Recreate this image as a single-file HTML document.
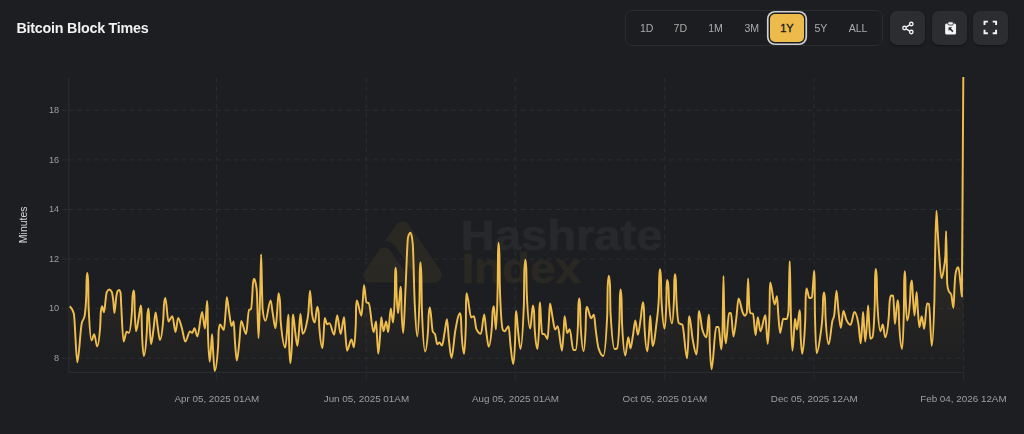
<!DOCTYPE html>
<html lang="en">
<head>
<meta charset="utf-8">
<title>Bitcoin Block Times</title>
<style>
  html, body { margin: 0; padding: 0; }
  body {
    width: 1024px; height: 434px; overflow: hidden; position: relative;
    background: #1d1e21;
    font-family: "Liberation Sans", sans-serif;
    color: #f2f2f3;
  }
  .title {
    position: absolute; left: 16.5px; top: 18px; height: 20px; line-height: 20px;
    font-size: 14.3px; font-weight: 700; color: #f1f1f2; letter-spacing: -0.23px;
    white-space: nowrap; filter: grayscale(1);
  }
  .range {
    position: absolute; left: 625.2px; top: 10px; width: 256px; height: 34px;
    border: 1px solid #2b2c30; border-radius: 7px; background: #1c1d20;
  }
  .range span {
    position: absolute; top: 3px; height: 28px; line-height: 28px; width: 34px; margin-left: -17px;
    text-align: center; font-size: 10.6px; color: #a9aab0; border-radius: 5px;
  }
  .range span:not(.on) { filter: grayscale(1); }
  .range span.on {
    background: #ecbb4b; color: #1b1c1f; font-weight: 400; -webkit-text-stroke: 0.35px #1b1c1f; width: 33.4px; margin-left: -16.7px;
    top: 2.5px; height: 28.8px; line-height: 28.8px; font-size: 11px;
    box-shadow: 0 0 0 1.4px #1d1e21, 0 0 0 3.1px #cfd0d4;
  }
  .ib {
    position: absolute; top: 10.5px; width: 35px; height: 34.7px; border-radius: 7px; box-shadow: 0 1px 2px rgba(0,0,0,0.4);
    background: #2c2d31;
  }
  .ib svg { position: absolute; left: 0; top: -0.5px; width: 35px; height: 35.5px; }
  svg.chart { position: absolute; left: 0; top: 0; }
  svg text { font-family: "Liberation Sans", sans-serif; }
</style>
</head>
<body>
<div class="title">Bitcoin Block Times</div>

<div class="range">
  <span style="left:20.5px">1D</span>
  <span style="left:54.2px">7D</span>
  <span style="left:89.4px">1M</span>
  <span style="left:125.6px">3M</span>
  <span class="on" style="left:160.7px">1Y</span>
  <span style="left:194.7px">5Y</span>
  <span style="left:231.9px">ALL</span>
</div>

<div class="ib" style="left:889.5px">
  <svg viewBox="0 0 35 35.5" fill="none" stroke="#f4f4f5" stroke-width="1.3">
    <circle cx="21.3" cy="14.0" r="1.75"/><circle cx="14.5" cy="18.0" r="1.75"/><circle cx="21.3" cy="22.0" r="1.75"/>
    <path d="M16.1 17.1 L19.7 14.9 M16.1 18.9 L19.7 21.1"/>
  </svg>
</div>
<div class="ib" style="left:931.5px">
  <svg viewBox="0 0 35 35.5">
    <g transform="translate(18.6 18.4) scale(0.94) translate(-17.8 -18.4)">
    <path d="M13.6 13.2 h8.4 a1.6 1.6 0 0 1 1.6 1.6 v8.6 a1.6 1.6 0 0 1 -1.6 1.6 h-8.4 a1.6 1.6 0 0 1 -1.6 -1.6 v-8.6 a1.6 1.6 0 0 1 1.6 -1.6 z" fill="#f4f4f5"/>
    <rect x="14.9" y="11.4" width="5.8" height="3.4" rx="1.2" fill="#f4f4f5" stroke="#2c2d31" stroke-width="0.9"/>
    <path d="M15.6 17.2 h4 l-1.4 1.4 2.6 2.6 -1.2 1.2 -2.6 -2.6 -1.4 1.4 z" fill="#2c2d31"/>
    </g>
  </svg>
</div>
<div class="ib" style="left:973.3px">
  <svg viewBox="0 0 35 35.5" fill="none" stroke="#f4f4f5" stroke-width="1.9">
    <path d="M11.5 15.0 V11.6 H14.9 M19.7 11.6 H23.1 V15.0 M23.1 19.8 V23.2 H19.7 M14.9 23.2 H11.5 V19.8"/>
  </svg>
</div>

<svg class="chart" width="1024" height="434" viewBox="0 0 1024 434">
  <defs>
    <linearGradient id="fill" gradientUnits="userSpaceOnUse" x1="0" y1="76" x2="0" y2="372">
      <stop offset="0" stop-color="#eebd4c" stop-opacity="0.2"/>
      <stop offset="1" stop-color="#eebd4c" stop-opacity="0"/>
    </linearGradient>
    <clipPath id="plot"><rect x="66" y="70" width="900" height="303"/></clipPath>
  </defs>

  <!-- watermark -->
  <defs>
    <clipPath id="tri"><path d="M409.35 225.14L440.25 269.94A8.20 8.20 0 0 1 433.50 282.80L371.80 282.80A8.20 8.20 0 0 1 365.04 269.95L395.84 225.15A8.20 8.20 0 0 1 409.35 225.14Z"/></clipPath>
  </defs>
  <g>
    <path d="M409.35 225.14L440.25 269.94A8.20 8.20 0 0 1 433.50 282.80L371.80 282.80A8.20 8.20 0 0 1 365.04 269.95L395.84 225.15A8.20 8.20 0 0 1 409.35 225.14Z" fill="#2a2823"/>
    <g clip-path="url(#tri)">
      <path d="M384.5 254.4L399.1 275.6H369.9Z" fill="none" stroke="#1d1e21" stroke-width="27" stroke-linejoin="round"/>
      <path d="M384.5 254.4L399.1 275.6H369.9Z" fill="#2a2823" stroke="#2a2823" stroke-width="14" stroke-linejoin="round"/>
    </g>
    <text x="460.6" y="250.1" font-size="42.5" font-weight="700" fill="#27282b" stroke="#27282b" stroke-width="0.7" textLength="202" lengthAdjust="spacingAndGlyphs">Hashrate</text>
    <text x="461.4" y="283.3" font-size="42.5" font-weight="700" fill="#2a2822" stroke="#2a2822" stroke-width="0.7" textLength="119.5" lengthAdjust="spacingAndGlyphs">Index</text>
  </g>
  <!-- grid -->
  <g stroke="#2b2d33" stroke-width="1" stroke-dasharray="4.5 4.2" fill="none">
    <path d="M68.5 110.3H963.8M68.5 159.9H963.8M68.5 209.5H963.8M68.5 259.1H963.8M68.5 308.7H963.8M68.5 358.3H963.8"/>
    <path d="M216.6 78V372M366.3 78V372M515.3 78V372M664.7 78V372M814.1 78V372M963.5 78V372"/>
  </g>
  <!-- axes -->
  <g stroke="#2a2b2f" stroke-width="1" fill="none">
    <path d="M68.8 78V372.3H964" stroke-width="1.25"/>
    <path d="M62 110.3H68.5M62 159.9H68.5M62 209.5H68.5M62 259.1H68.5M62 308.7H68.5M62 358.3H68.5"/>
    <path d="M216.6 372V379.5M366.3 372V379.5M515.3 372V379.5M664.7 372V379.5M814.1 372V379.5M963.5 372V379.5"/>
  </g>
  <!-- y labels -->
  <g font-size="9.2" fill="#9c9da3" text-anchor="end" style="filter:grayscale(1)">
    <text x="59.2" y="113">18</text>
    <text x="59.2" y="162.6">16</text>
    <text x="59.2" y="212.2">14</text>
    <text x="59.2" y="261.8">12</text>
    <text x="59.2" y="311.4">10</text>
    <text x="59.2" y="361">8</text>
  </g>
  <g style="filter:grayscale(1)"><text transform="translate(27.3 224.8) rotate(-90)" font-size="10.5" fill="#d6d6d9" text-anchor="middle">Minutes</text></g>
  <!-- x labels -->
  <g font-size="9.85" fill="#9c9da3" text-anchor="middle" style="filter:grayscale(1)">
    <text x="216.8" y="402.0">Apr 05, 2025 01AM</text>
    <text x="366.4" y="402.0">Jun 05, 2025 01AM</text>
    <text x="515.5" y="402.0">Aug 05, 2025 01AM</text>
    <text x="664.9" y="402.0">Oct 05, 2025 01AM</text>
    <text x="814.3" y="402.0">Dec 05, 2025 12AM</text>
    <text x="963.4" y="402.0">Feb 04, 2026 12AM</text>
  </g>

  <!-- series -->
  <g clip-path="url(#plot)">
    <path d="M69.8,306.2C71.1,307.4,72.5,308.7,73.8,313.6C75.0,317.9,76.1,362.3,77.3,362.3C78.7,362.3,80.2,331.6,81.6,323.9C82.6,318.4,83.7,321.0,84.7,315.3C85.2,312.3,85.8,308.2,86.3,294.1C86.4,290.9,86.5,280.6,86.7,278.4C86.9,274.7,87.1,272.9,87.3,272.9C87.6,272.9,87.9,275.8,88.2,281.7C88.3,284.6,88.4,303.4,88.6,306.6C89.6,329.1,90.6,340.4,91.6,340.4C92.5,340.4,93.3,334.3,94.2,334.3C95.2,334.3,96.2,346.4,97.2,346.4C98.2,346.4,99.2,339.7,100.2,326.3C100.4,323.1,100.6,313.6,100.9,311.5C101.3,308.0,101.7,306.3,102.1,306.3C102.7,306.3,103.4,312.3,104.0,312.3C104.5,312.3,105.1,304.0,105.6,300.0C105.9,297.5,106.3,293.3,106.6,292.5C107.5,290.5,108.3,289.5,109.2,289.5C110.1,289.5,110.9,290.3,111.8,292.0C112.3,292.9,112.7,296.1,113.2,300.0C113.6,303.4,114.0,312.9,114.4,312.9C115.1,312.9,115.7,299.8,116.4,296.0C116.8,293.7,117.2,291.6,117.6,291.0C118.1,290.3,118.7,289.9,119.2,289.9C119.7,289.9,120.1,290.9,120.6,293.0C120.8,293.9,121.0,301.2,121.2,305.0C122.0,320.2,122.8,341.6,123.6,341.6C124.6,341.6,125.6,331.7,126.6,331.7C127.3,331.7,128.1,332.9,128.8,332.9C129.8,332.9,130.9,325.8,131.9,311.7C132.1,308.5,132.4,298.2,132.6,296.0C133.0,292.3,133.4,290.5,133.8,290.5C134.0,290.5,134.2,292.3,134.4,295.8C134.5,297.9,134.6,307.6,134.7,310.9C135.2,324.4,135.6,331.2,136.1,331.2C136.9,331.2,137.8,322.8,138.6,318.4C139.4,314.2,140.1,305.5,140.9,305.5C141.1,305.5,141.3,307.7,141.5,312.1C141.6,314.4,141.8,327.7,141.9,330.7C142.5,347.5,143.2,355.9,143.8,355.9C144.8,355.9,145.8,348.0,146.8,332.1C147.0,329.0,147.2,316.9,147.4,314.6C147.8,310.5,148.1,308.4,148.5,308.4C148.9,308.4,149.2,321.0,149.6,326.3C150.1,333.6,150.6,344.2,151.1,344.2C151.9,344.2,152.8,334.3,153.6,328.3C154.3,323.5,154.9,312.4,155.6,312.4C156.3,312.4,156.9,321.8,157.6,326.1C158.4,331.1,159.1,339.9,159.9,339.9C161.0,339.9,162.2,332.9,163.3,318.9C163.5,315.6,163.8,305.5,164.1,303.4C164.5,299.7,165.0,297.9,165.4,297.9C166.4,297.9,167.4,321.4,168.4,321.4C169.7,321.4,171.1,316.2,172.4,316.2C173.4,316.2,174.5,332.1,175.5,332.1C176.4,332.1,177.2,317.9,178.1,317.9C179.4,317.9,180.6,324.0,181.9,328.3C183.0,332.1,184.2,341.6,185.3,341.6C186.9,341.6,188.4,331.4,190.0,331.4C190.7,331.4,191.5,332.9,192.2,332.9C193.0,332.9,193.7,328.3,194.5,328.3C195.5,328.3,196.4,336.4,197.4,336.4C199.0,336.4,200.5,311.9,202.1,311.9C203.0,311.9,204.0,328.6,204.9,328.6C205.3,328.6,205.7,319.7,206.1,314.8C206.4,310.4,206.8,300.9,207.1,300.9C207.3,300.9,207.4,303.5,207.6,308.8C207.7,311.5,207.8,328.5,207.9,331.4C208.5,351.7,209.1,361.8,209.7,361.8C210.1,361.8,210.6,353.0,211.0,348.0C211.4,343.7,211.7,334.3,212.1,334.3C212.5,334.3,212.8,347.3,213.2,352.6C213.7,360.2,214.2,371.0,214.7,371.0C215.8,371.0,216.9,363.2,218.0,347.8C218.3,344.6,218.5,332.8,218.7,330.5C219.1,326.5,219.5,324.5,219.9,324.5C221.2,324.5,222.6,330.0,223.9,330.0C224.4,330.0,225.0,319.9,225.5,313.5C226.0,308.6,226.4,297.1,226.8,297.1C227.5,297.1,228.3,307.1,229.0,311.5C229.9,316.8,230.7,326.0,231.6,326.0C232.3,326.0,233.0,321.2,233.7,321.2C234.1,321.2,234.5,335.2,234.9,340.9C235.6,349.3,236.2,360.5,236.8,360.5C237.7,360.5,238.6,349.3,239.4,340.8C240.0,335.0,240.6,321.0,241.2,321.0C242.8,321.0,244.5,334.1,246.1,334.1C247.1,334.1,248.0,309.9,249.0,309.6C249.7,309.4,250.4,309.5,251.1,309.3C251.5,309.2,251.9,301.5,252.3,295.0C252.5,291.8,252.7,285.9,252.9,284.0C253.3,280.5,253.6,278.7,254.0,278.7C254.5,278.7,255.1,280.3,255.6,283.0C256.0,285.2,256.5,286.0,256.9,292.0C257.4,299.4,258.0,338.1,258.5,338.1C258.9,338.1,259.3,322.8,259.7,310.0C259.9,302.5,260.2,293.2,260.4,284.0C260.6,274.7,260.9,254.5,261.1,254.5C261.4,254.5,261.6,274.3,261.9,284.0C262.1,292.5,262.4,307.0,262.6,309.0C263.5,316.9,264.5,320.8,265.4,320.8C267.1,320.8,268.9,300.5,270.6,300.5C271.4,300.5,272.1,310.0,272.9,314.4C273.8,319.4,274.6,328.3,275.5,328.3C276.1,328.3,276.6,317.8,277.2,310.8C277.6,305.5,278.1,293.2,278.5,293.2C279.0,293.2,279.4,295.6,279.9,300.3C280.2,302.7,280.4,317.6,280.6,320.4C282.2,338.5,283.7,347.6,285.3,347.6C285.9,347.6,286.4,337.5,287.0,331.2C287.4,326.3,287.9,314.8,288.3,314.8C288.4,314.8,288.6,316.9,288.7,321.1C288.8,323.4,288.9,335.9,289.0,339.0C289.4,355.1,289.9,363.2,290.3,363.2C290.9,363.2,291.5,355.1,292.1,338.9C292.2,335.8,292.4,323.2,292.5,320.8C292.7,316.6,292.9,314.5,293.1,314.5C293.7,314.5,294.4,325.4,295.0,330.2C295.8,336.1,296.6,345.9,297.4,345.9C298.0,345.9,298.5,335.9,299.1,329.8C299.5,324.9,300.0,313.6,300.4,313.6C301.1,313.6,301.9,333.8,302.6,333.8C304.0,333.8,305.5,329.9,306.9,322.2C307.4,319.7,307.8,317.9,308.3,313.5C308.9,308.2,309.4,290.8,310.0,290.8C310.7,290.8,311.3,309.0,312.0,313.5C312.9,319.6,313.8,322.6,314.7,322.6C315.6,322.6,316.4,306.7,317.3,306.7C317.7,306.7,318.1,308.5,318.6,312.1C318.8,314.2,319.1,324.1,319.3,327.4C320.4,341.1,321.4,348.0,322.5,348.0C322.9,348.0,323.3,338.5,323.7,332.9C324.0,328.3,324.4,317.9,324.7,317.9C325.5,317.9,326.3,324.3,327.1,324.3C327.9,324.3,328.6,323.1,329.4,323.1C331.0,323.1,332.6,334.7,334.2,334.7C335.2,334.7,336.2,315.3,337.2,315.3C338.3,315.3,339.5,334.1,340.6,334.1C341.8,334.1,342.9,317.1,344.1,317.1C344.5,317.1,344.9,328.9,345.4,333.9C345.9,340.5,346.5,350.7,347.0,350.7C348.5,350.7,350.0,339.5,351.5,339.5C352.3,339.5,353.1,347.3,353.9,347.3C354.5,347.3,355.1,339.5,355.8,323.9C355.9,320.8,356.0,308.9,356.1,306.6C356.4,302.5,356.6,300.5,356.8,300.5C358.3,300.5,359.9,315.7,361.4,315.7C361.9,315.7,362.4,306.1,362.8,300.4C363.2,295.7,363.6,285.1,364.0,285.1C364.8,285.1,365.6,301.6,366.4,302.3C367.2,303.0,368.0,302.6,368.8,303.3C370.4,304.6,371.9,332.1,373.5,332.1C374.4,332.1,375.2,321.4,376.1,321.4C376.4,321.4,376.7,332.7,377.1,337.5C377.5,343.7,377.9,353.7,378.3,353.7C378.9,353.7,379.5,342.9,380.1,335.4C380.5,330.0,380.9,317.1,381.3,317.1C382.0,317.1,382.8,331.2,383.5,331.2C384.4,331.2,385.2,321.4,386.1,321.4C386.8,321.4,387.5,332.1,388.2,332.1C389.1,332.1,389.9,308.4,390.8,308.4C391.5,308.4,392.3,322.6,393.0,322.6C393.6,322.6,394.2,313.5,394.8,295.2C394.9,292.4,395.0,277.4,395.1,274.9C395.2,270.2,395.4,267.8,395.6,267.8C395.8,267.8,396.0,269.8,396.2,273.7C396.3,275.9,396.4,287.3,396.5,290.4C397.0,305.6,397.5,313.1,398.0,313.1C398.5,313.1,398.9,304.6,399.4,299.9C399.8,295.8,400.2,286.8,400.6,286.8C400.8,286.8,401.0,288.8,401.2,292.8C401.3,295.1,401.4,306.7,401.5,309.8C402.1,325.2,402.6,332.9,403.2,332.9C404.0,332.9,404.8,302.9,405.6,287.0C406.4,271.1,407.2,240.6,408.0,237.5C408.8,234.3,409.7,232.7,410.5,232.7C411.2,232.7,412.0,236.1,412.7,243.0C413.4,249.2,414.0,288.0,414.7,303.0C415.6,322.5,416.4,336.4,417.3,336.4C418.0,336.4,418.7,324.0,419.5,299.2C419.6,295.7,419.7,275.0,419.8,271.8C420.0,265.3,420.2,262.1,420.4,262.1C420.7,262.1,421.0,266.0,421.3,273.7C421.5,277.6,421.7,302.5,421.8,306.8C422.9,336.5,424.0,351.4,425.1,351.4C426.1,351.4,427.1,344.1,428.1,329.4C428.3,326.2,428.5,315.4,428.8,313.2C429.1,309.4,429.5,307.5,429.9,307.5C430.9,307.5,431.8,329.5,432.8,331.7C433.6,333.4,434.3,332.6,435.1,334.3C435.8,335.9,436.5,344.2,437.2,344.2C437.9,344.2,438.7,342.5,439.4,342.5C440.3,342.5,441.1,345.6,442.0,345.6C442.9,345.6,443.7,337.1,444.6,332.4C445.4,328.3,446.2,319.3,447.0,319.3C447.6,319.3,448.2,333.0,448.8,338.6C449.7,346.9,450.6,358.0,451.5,358.0C452.8,358.0,454.0,337.9,455.3,330.8C456.9,322.0,458.4,313.1,460.0,313.1C460.3,313.1,460.7,314.9,461.0,318.4C461.2,320.5,461.4,330.1,461.6,333.4C462.4,346.9,463.3,353.7,464.1,353.7C464.7,353.7,465.3,343.6,465.9,323.4C465.9,320.6,466.0,303.7,466.1,301.1C466.3,295.8,466.4,293.2,466.6,293.2C468.1,293.2,469.7,317.4,471.2,317.4C472.1,317.4,473.1,316.2,474.0,316.2C474.8,316.2,475.6,327.4,476.4,329.1C477.9,332.2,479.4,333.8,480.9,333.8C482.0,333.8,483.1,314.5,484.2,314.5C484.9,314.5,485.5,325.8,486.2,330.6C487.0,336.8,487.9,346.8,488.7,346.8C489.8,346.8,490.8,340.0,491.9,326.5C492.1,323.2,492.4,313.6,492.6,311.5C493.0,308.0,493.5,306.2,493.9,306.2C494.6,306.2,495.2,329.5,495.9,329.5C496.5,329.5,497.1,315.0,497.7,286.1C497.8,282.0,497.9,257.7,498.0,254.0C498.2,246.5,498.3,242.7,498.5,242.7C498.8,242.7,499.1,246.5,499.4,254.0C499.5,257.8,499.7,282.2,499.8,286.4C500.8,315.4,501.9,328.6,502.9,330.0C503.5,330.8,504.0,331.2,504.6,331.2C505.9,331.2,507.3,326.2,508.6,326.2C509.2,326.2,509.9,339.6,510.5,345.1C511.4,353.1,512.3,364.1,513.2,364.1C513.9,364.1,514.6,355.2,515.2,337.6C515.3,334.6,515.5,320.3,515.6,317.9C515.8,313.3,516.0,311.0,516.2,311.0C516.8,311.0,517.4,324.5,518.0,330.0C518.8,338.0,519.7,349.0,520.5,349.0C521.6,349.0,522.7,334.1,523.9,304.4C524.0,300.1,524.2,275.2,524.3,271.3C524.7,263.6,525.0,259.7,525.3,259.7C525.6,259.7,526.0,262.7,526.3,268.7C526.4,271.6,526.6,290.9,526.8,294.1C527.9,317.1,529.1,328.6,530.2,328.6C531.1,328.6,532.0,305.5,532.9,305.5C533.3,305.5,533.6,307.4,534.0,311.2C534.2,313.3,534.4,324.0,534.6,327.2C535.5,341.8,536.5,349.0,537.4,349.0C538.0,349.0,538.5,341.2,539.1,325.7C539.2,322.6,539.3,310.7,539.4,308.5C539.6,304.4,539.8,302.4,540.0,302.4C540.3,302.4,540.6,313.3,540.9,318.1C541.3,324.0,541.7,333.7,542.1,333.8C543.0,334.1,543.8,334.0,544.7,334.3C545.6,334.7,546.6,339.0,547.5,339.0C548.0,339.0,548.5,328.4,548.9,321.2C549.3,315.9,549.6,303.4,550.0,303.4C550.8,303.4,551.6,312.3,552.4,316.4C553.3,321.0,554.2,329.5,555.1,329.5C556.0,329.5,556.8,326.2,557.7,326.2C559.1,326.2,560.6,350.7,562.0,350.7C562.5,350.7,563.0,340.3,563.5,333.4C563.9,328.3,564.2,316.2,564.6,316.2C565.5,316.2,566.3,332.9,567.2,332.9C568.0,332.9,568.9,329.2,569.7,329.2C570.9,329.2,572.1,350.1,573.3,350.1C574.1,350.1,574.8,350.1,575.6,350.0C576.4,349.9,577.2,341.4,578.0,324.2C578.1,321.2,578.3,307.5,578.4,305.1C578.7,300.6,578.9,298.4,579.2,298.4C579.5,298.4,579.8,300.7,580.1,305.3C580.3,307.7,580.4,321.8,580.6,324.8C581.6,342.3,582.5,351.1,583.5,351.1C584.2,351.1,584.9,343.7,585.6,328.9C585.7,325.7,585.9,314.7,586.0,312.5C586.3,308.6,586.5,306.7,586.8,306.7C588.2,306.7,589.7,318.2,591.1,318.2C592.0,318.2,593.0,314.8,593.9,314.8C594.6,314.8,595.2,326.5,595.9,331.4C596.8,337.9,597.6,345.3,598.5,348.1C600.1,353.3,601.8,355.9,603.4,355.9C604.7,355.9,605.9,342.5,607.2,315.8C607.4,311.9,607.5,289.5,607.7,286.0C608.1,279.1,608.4,275.6,608.8,275.6C609.2,275.6,609.6,278.8,610.0,285.1C610.2,288.3,610.3,308.8,610.5,312.3C611.9,336.8,613.2,349.0,614.6,349.0C615.4,349.0,616.2,348.8,617.0,348.3C617.8,347.8,618.7,338.5,619.5,318.9C619.6,316.0,619.8,299.6,619.9,297.1C620.1,292.0,620.4,289.4,620.6,289.4C620.9,289.4,621.2,292.3,621.5,298.0C621.7,300.8,621.9,319.3,622.0,322.4C623.1,344.4,624.2,355.4,625.3,355.4C626.3,355.4,627.3,337.3,628.3,337.3C629.0,337.3,629.8,348.5,630.5,348.5C631.4,348.5,632.2,339.5,633.1,334.5C633.8,330.1,634.6,320.5,635.3,320.5C636.2,320.5,637.0,334.7,637.9,334.7C638.8,334.7,639.8,324.7,640.7,318.4C641.4,313.5,642.2,302.2,642.9,302.2C643.2,302.2,643.6,304.3,643.9,308.6C644.1,310.9,644.3,323.7,644.5,326.8C645.4,343.2,646.4,351.4,647.4,351.4C647.9,351.4,648.5,340.8,649.0,333.5C649.4,328.3,649.8,315.7,650.2,315.7C650.6,315.7,650.9,326.2,651.3,330.8C651.7,336.4,652.2,345.9,652.6,345.9C653.9,345.9,655.1,335.3,656.4,323.9C657.2,316.5,658.0,314.8,658.9,296.5C659.0,293.7,659.1,278.8,659.3,276.3C659.5,271.6,659.8,269.2,660.0,269.2C660.3,269.2,660.6,271.8,660.9,276.9C661.1,279.5,661.2,296.1,661.4,298.9C662.5,318.7,663.5,328.6,664.6,328.6C665.2,328.6,665.7,320.5,666.3,304.2C666.4,301.2,666.5,288.6,666.6,286.2C666.8,282.0,667.0,279.9,667.2,279.9C667.6,279.9,668.0,281.8,668.3,285.6C668.6,287.7,668.8,298.4,669.0,301.6C670.0,316.1,671.0,323.4,672.0,323.4C672.7,323.4,673.3,315.2,674.0,298.8C674.1,295.7,674.2,282.9,674.3,280.6C674.6,276.3,674.8,274.2,675.0,274.2C675.3,274.2,675.6,276.3,675.9,280.6C676.0,282.9,676.2,295.6,676.4,298.6C677.2,314.9,678.1,322.3,678.9,323.1C680.1,324.2,681.2,323.7,682.4,324.8C683.9,326.3,685.5,358.3,687.0,358.3C687.5,358.3,687.9,351.3,688.4,337.2C688.5,334.0,688.6,323.8,688.7,321.7C688.9,318.0,689.1,316.2,689.3,316.2C690.4,316.2,691.6,333.3,692.7,339.5C694.0,346.4,695.2,354.5,696.5,354.5C697.0,354.5,697.6,347.2,698.1,332.8C698.2,329.5,698.4,318.8,698.5,316.7C698.7,312.9,698.9,311.0,699.1,311.0C700.1,311.0,701.2,325.2,702.2,329.1C703.7,334.6,705.1,337.3,706.6,337.3C707.3,337.3,708.1,314.8,708.8,314.8C709.0,314.8,709.2,317.2,709.4,321.9C709.5,324.3,709.6,339.2,709.7,342.0C710.3,360.1,711.0,369.2,711.6,369.2C713.1,369.2,714.7,327.1,716.2,327.0C717.0,326.9,717.8,326.9,718.6,326.9C719.5,326.9,720.4,349.4,721.3,349.4C721.7,349.4,722.0,344.6,722.4,335.0C722.6,330.2,722.8,312.9,723.0,303.0C723.1,293.2,723.3,275.9,723.5,275.9C723.7,275.9,723.9,294.2,724.0,303.0C724.3,313.4,724.5,329.3,724.7,333.0C725.1,339.9,725.5,343.3,725.9,343.3C726.9,343.3,728.0,313.4,729.0,313.2C729.7,313.1,730.3,313.0,731.0,313.0C731.8,313.0,732.6,336.4,733.4,336.4C734.4,336.4,735.4,325.4,736.4,317.4C737.1,311.9,737.8,298.4,738.5,298.4C740.0,298.4,741.4,310.1,742.9,313.0C743.5,314.3,744.2,315.7,744.8,315.7C745.5,315.7,746.1,314.8,746.8,313.0C747.0,312.5,747.2,300.4,747.4,295.0C747.6,288.7,747.9,278.5,748.1,278.5C748.3,278.5,748.6,289.5,748.8,295.0C749.0,299.7,749.2,307.7,749.4,309.0C749.8,311.8,750.3,313.0,750.7,313.2C751.5,313.5,752.2,313.3,753.0,313.6C753.9,313.9,754.7,335.2,755.6,335.2C756.3,335.2,757.1,317.1,757.8,317.1C758.7,317.1,759.5,331.2,760.4,331.2C762.1,331.2,763.7,315.3,765.4,315.3C765.8,315.3,766.1,325.1,766.5,329.5C766.9,334.7,767.3,343.8,767.7,343.8C768.3,343.8,768.9,333.6,769.5,313.1C769.6,310.2,769.7,293.1,769.8,290.5C770.0,285.2,770.1,282.5,770.3,282.5C771.7,282.5,773.2,304.4,774.6,304.4C775.4,304.4,776.2,296.3,777.0,296.3C777.4,296.3,777.9,309.2,778.3,314.6C778.9,322.1,779.5,332.9,780.1,332.9C781.1,332.9,782.2,318.8,783.2,318.8C784.4,318.8,785.5,319.1,786.7,319.1C787.3,319.1,787.9,316.4,788.5,311.0C788.7,309.2,788.9,293.3,789.1,285.0C789.3,276.7,789.5,261.2,789.7,261.2C789.9,261.2,790.1,275.9,790.3,285.0C790.5,294.1,790.7,307.3,790.9,316.0C791.4,337.8,791.9,350.7,792.4,350.7C792.9,350.7,793.4,340.8,793.8,334.8C794.2,329.9,794.6,318.8,795.0,318.8C795.7,318.8,796.3,329.5,797.0,329.5C797.9,329.5,798.7,310.1,799.6,310.1C799.8,310.1,800.0,312.0,800.2,315.8C800.3,318.0,800.4,328.7,800.5,331.9C801.1,346.4,801.6,353.7,802.1,353.7C803.1,353.7,804.2,342.8,805.2,321.1C805.4,318.0,805.6,299.8,805.7,297.0C806.0,291.3,806.3,288.5,806.6,288.5C807.5,288.5,808.5,298.1,809.4,298.1C810.2,298.1,811.1,297.9,811.9,297.4C812.3,297.2,812.7,288.8,813.1,284.0C813.5,279.8,813.8,270.7,814.2,270.7C814.4,270.7,814.5,274.3,814.7,281.4C814.8,285.0,814.8,308.0,814.9,311.9C815.5,339.4,816.0,353.2,816.6,353.2C817.9,353.2,819.1,345.1,820.4,335.2C821.1,329.4,821.9,328.1,822.6,313.9C822.8,310.6,823.0,300.2,823.1,298.1C823.4,294.4,823.7,292.5,824.0,292.5C824.3,292.5,824.7,294.7,825.0,299.2C825.2,301.6,825.4,315.4,825.6,318.4C826.6,335.6,827.7,344.2,828.7,344.2C830.0,344.2,831.2,325.6,832.5,320.5C833.1,318.2,833.6,318.8,834.2,315.3C835.0,310.6,835.7,290.8,836.5,290.8C837.1,290.8,837.7,303.9,838.3,309.3C839.1,317.0,840.0,327.8,840.8,327.8C841.7,327.8,842.5,311.0,843.4,311.0C844.4,311.0,845.3,317.4,846.3,319.6C847.7,322.8,849.2,324.8,850.6,324.8C851.9,324.8,853.1,311.9,854.4,311.9C855.7,311.9,857.1,315.9,858.4,323.9C859.2,328.5,859.9,343.3,860.7,343.3C861.1,343.3,861.6,333.5,862.0,327.6C862.4,322.8,862.7,311.9,863.1,311.9C863.4,311.9,863.8,322.2,864.1,326.8C864.5,332.2,864.9,341.6,865.3,341.6C865.8,341.6,866.4,330.9,866.9,323.6C867.3,318.2,867.7,305.5,868.1,305.5C868.4,305.5,868.7,317.2,869.1,322.1C869.5,328.6,869.9,338.8,870.3,338.8C871.0,338.8,871.7,338.3,872.4,337.2C873.2,336.0,874.0,325.8,874.8,303.1C874.9,299.9,875.0,280.8,875.1,277.9C875.3,272.0,875.6,269.0,875.8,269.0C876.1,269.0,876.4,271.7,876.7,277.1C876.9,279.8,877.0,297.1,877.2,300.1C878.3,320.8,879.3,331.2,880.4,331.2C881.2,331.2,882.0,324.5,882.8,324.5C883.6,324.5,884.4,337.3,885.2,337.3C886.4,337.3,887.6,330.3,888.8,316.4C889.1,313.1,889.4,303.0,889.7,300.8C890.1,297.2,890.6,295.4,891.1,295.4C891.8,295.4,892.5,295.5,893.2,295.7C893.8,295.9,894.3,324.0,894.9,324.0C895.8,324.0,896.7,300.1,897.6,300.1C897.9,300.1,898.3,302.2,898.6,306.5C898.8,308.8,899.0,321.5,899.2,324.5C900.1,340.8,901.1,349.0,902.1,349.0C902.7,349.0,903.3,336.0,903.9,310.1C904.0,306.4,904.1,284.7,904.2,281.3C904.4,274.6,904.5,271.2,904.7,271.2C904.9,271.2,905.1,273.3,905.3,277.6C905.4,280.0,905.5,292.8,905.6,295.9C906.1,312.3,906.7,320.5,907.2,320.5C908.1,320.5,909.1,313.8,910.0,300.5C910.3,297.2,910.5,287.8,910.7,285.7C911.1,282.2,911.5,280.5,911.9,280.5C912.3,280.5,912.6,292.8,913.0,298.0C913.5,305.0,914.0,315.5,914.5,315.5C915.2,315.5,915.9,292.0,916.6,292.0C917.0,292.0,917.4,304.4,917.8,309.6C918.3,316.7,918.9,327.2,919.4,327.2C920.2,327.2,920.9,316.2,921.7,316.2C922.5,316.2,923.4,328.8,924.2,328.8C925.1,328.8,926.1,303.4,927.0,303.4C927.7,303.4,928.3,303.6,929.0,303.9C929.9,304.3,930.8,345.9,931.7,345.9C932.6,345.9,933.5,330.6,934.4,300.0C934.7,290.9,934.9,263.5,935.2,250.0C935.6,229.8,936.0,210.7,936.4,210.7C936.8,210.7,937.2,223.6,937.6,230.0C938.1,237.4,938.5,245.6,939.0,252.0C939.8,263.5,940.7,278.1,941.5,278.1C942.3,278.1,943.1,273.6,943.9,268.0C944.4,264.5,944.9,263.7,945.4,255.0C945.6,251.0,945.9,231.1,946.1,231.1C946.3,231.1,946.6,253.8,946.8,265.0C946.9,271.4,947.1,282.8,947.2,284.0C947.7,288.7,948.2,289.6,948.7,291.0C949.5,293.3,950.4,292.2,951.2,294.5C952.0,296.6,952.7,307.9,953.5,307.9C953.8,307.9,954.1,295.7,954.4,290.0C954.6,286.2,954.8,281.6,955.0,279.0C955.5,273.0,955.9,271.4,956.4,270.0C957.0,268.1,957.7,267.2,958.3,267.2C959.1,267.2,959.8,277.3,960.6,284.0C961.0,287.8,961.5,296.5,961.9,296.5C962.4,296.5,962.8,186.8,963.3,77.0L963.3,372L69.8,372Z" fill="url(#fill)" stroke="none"/>
    <path d="M69.8,306.2C71.1,307.4,72.5,308.7,73.8,313.6C75.0,317.9,76.1,362.3,77.3,362.3C78.7,362.3,80.2,331.6,81.6,323.9C82.6,318.4,83.7,321.0,84.7,315.3C85.2,312.3,85.8,308.2,86.3,294.1C86.4,290.9,86.5,280.6,86.7,278.4C86.9,274.7,87.1,272.9,87.3,272.9C87.6,272.9,87.9,275.8,88.2,281.7C88.3,284.6,88.4,303.4,88.6,306.6C89.6,329.1,90.6,340.4,91.6,340.4C92.5,340.4,93.3,334.3,94.2,334.3C95.2,334.3,96.2,346.4,97.2,346.4C98.2,346.4,99.2,339.7,100.2,326.3C100.4,323.1,100.6,313.6,100.9,311.5C101.3,308.0,101.7,306.3,102.1,306.3C102.7,306.3,103.4,312.3,104.0,312.3C104.5,312.3,105.1,304.0,105.6,300.0C105.9,297.5,106.3,293.3,106.6,292.5C107.5,290.5,108.3,289.5,109.2,289.5C110.1,289.5,110.9,290.3,111.8,292.0C112.3,292.9,112.7,296.1,113.2,300.0C113.6,303.4,114.0,312.9,114.4,312.9C115.1,312.9,115.7,299.8,116.4,296.0C116.8,293.7,117.2,291.6,117.6,291.0C118.1,290.3,118.7,289.9,119.2,289.9C119.7,289.9,120.1,290.9,120.6,293.0C120.8,293.9,121.0,301.2,121.2,305.0C122.0,320.2,122.8,341.6,123.6,341.6C124.6,341.6,125.6,331.7,126.6,331.7C127.3,331.7,128.1,332.9,128.8,332.9C129.8,332.9,130.9,325.8,131.9,311.7C132.1,308.5,132.4,298.2,132.6,296.0C133.0,292.3,133.4,290.5,133.8,290.5C134.0,290.5,134.2,292.3,134.4,295.8C134.5,297.9,134.6,307.6,134.7,310.9C135.2,324.4,135.6,331.2,136.1,331.2C136.9,331.2,137.8,322.8,138.6,318.4C139.4,314.2,140.1,305.5,140.9,305.5C141.1,305.5,141.3,307.7,141.5,312.1C141.6,314.4,141.8,327.7,141.9,330.7C142.5,347.5,143.2,355.9,143.8,355.9C144.8,355.9,145.8,348.0,146.8,332.1C147.0,329.0,147.2,316.9,147.4,314.6C147.8,310.5,148.1,308.4,148.5,308.4C148.9,308.4,149.2,321.0,149.6,326.3C150.1,333.6,150.6,344.2,151.1,344.2C151.9,344.2,152.8,334.3,153.6,328.3C154.3,323.5,154.9,312.4,155.6,312.4C156.3,312.4,156.9,321.8,157.6,326.1C158.4,331.1,159.1,339.9,159.9,339.9C161.0,339.9,162.2,332.9,163.3,318.9C163.5,315.6,163.8,305.5,164.1,303.4C164.5,299.7,165.0,297.9,165.4,297.9C166.4,297.9,167.4,321.4,168.4,321.4C169.7,321.4,171.1,316.2,172.4,316.2C173.4,316.2,174.5,332.1,175.5,332.1C176.4,332.1,177.2,317.9,178.1,317.9C179.4,317.9,180.6,324.0,181.9,328.3C183.0,332.1,184.2,341.6,185.3,341.6C186.9,341.6,188.4,331.4,190.0,331.4C190.7,331.4,191.5,332.9,192.2,332.9C193.0,332.9,193.7,328.3,194.5,328.3C195.5,328.3,196.4,336.4,197.4,336.4C199.0,336.4,200.5,311.9,202.1,311.9C203.0,311.9,204.0,328.6,204.9,328.6C205.3,328.6,205.7,319.7,206.1,314.8C206.4,310.4,206.8,300.9,207.1,300.9C207.3,300.9,207.4,303.5,207.6,308.8C207.7,311.5,207.8,328.5,207.9,331.4C208.5,351.7,209.1,361.8,209.7,361.8C210.1,361.8,210.6,353.0,211.0,348.0C211.4,343.7,211.7,334.3,212.1,334.3C212.5,334.3,212.8,347.3,213.2,352.6C213.7,360.2,214.2,371.0,214.7,371.0C215.8,371.0,216.9,363.2,218.0,347.8C218.3,344.6,218.5,332.8,218.7,330.5C219.1,326.5,219.5,324.5,219.9,324.5C221.2,324.5,222.6,330.0,223.9,330.0C224.4,330.0,225.0,319.9,225.5,313.5C226.0,308.6,226.4,297.1,226.8,297.1C227.5,297.1,228.3,307.1,229.0,311.5C229.9,316.8,230.7,326.0,231.6,326.0C232.3,326.0,233.0,321.2,233.7,321.2C234.1,321.2,234.5,335.2,234.9,340.9C235.6,349.3,236.2,360.5,236.8,360.5C237.7,360.5,238.6,349.3,239.4,340.8C240.0,335.0,240.6,321.0,241.2,321.0C242.8,321.0,244.5,334.1,246.1,334.1C247.1,334.1,248.0,309.9,249.0,309.6C249.7,309.4,250.4,309.5,251.1,309.3C251.5,309.2,251.9,301.5,252.3,295.0C252.5,291.8,252.7,285.9,252.9,284.0C253.3,280.5,253.6,278.7,254.0,278.7C254.5,278.7,255.1,280.3,255.6,283.0C256.0,285.2,256.5,286.0,256.9,292.0C257.4,299.4,258.0,338.1,258.5,338.1C258.9,338.1,259.3,322.8,259.7,310.0C259.9,302.5,260.2,293.2,260.4,284.0C260.6,274.7,260.9,254.5,261.1,254.5C261.4,254.5,261.6,274.3,261.9,284.0C262.1,292.5,262.4,307.0,262.6,309.0C263.5,316.9,264.5,320.8,265.4,320.8C267.1,320.8,268.9,300.5,270.6,300.5C271.4,300.5,272.1,310.0,272.9,314.4C273.8,319.4,274.6,328.3,275.5,328.3C276.1,328.3,276.6,317.8,277.2,310.8C277.6,305.5,278.1,293.2,278.5,293.2C279.0,293.2,279.4,295.6,279.9,300.3C280.2,302.7,280.4,317.6,280.6,320.4C282.2,338.5,283.7,347.6,285.3,347.6C285.9,347.6,286.4,337.5,287.0,331.2C287.4,326.3,287.9,314.8,288.3,314.8C288.4,314.8,288.6,316.9,288.7,321.1C288.8,323.4,288.9,335.9,289.0,339.0C289.4,355.1,289.9,363.2,290.3,363.2C290.9,363.2,291.5,355.1,292.1,338.9C292.2,335.8,292.4,323.2,292.5,320.8C292.7,316.6,292.9,314.5,293.1,314.5C293.7,314.5,294.4,325.4,295.0,330.2C295.8,336.1,296.6,345.9,297.4,345.9C298.0,345.9,298.5,335.9,299.1,329.8C299.5,324.9,300.0,313.6,300.4,313.6C301.1,313.6,301.9,333.8,302.6,333.8C304.0,333.8,305.5,329.9,306.9,322.2C307.4,319.7,307.8,317.9,308.3,313.5C308.9,308.2,309.4,290.8,310.0,290.8C310.7,290.8,311.3,309.0,312.0,313.5C312.9,319.6,313.8,322.6,314.7,322.6C315.6,322.6,316.4,306.7,317.3,306.7C317.7,306.7,318.1,308.5,318.6,312.1C318.8,314.2,319.1,324.1,319.3,327.4C320.4,341.1,321.4,348.0,322.5,348.0C322.9,348.0,323.3,338.5,323.7,332.9C324.0,328.3,324.4,317.9,324.7,317.9C325.5,317.9,326.3,324.3,327.1,324.3C327.9,324.3,328.6,323.1,329.4,323.1C331.0,323.1,332.6,334.7,334.2,334.7C335.2,334.7,336.2,315.3,337.2,315.3C338.3,315.3,339.5,334.1,340.6,334.1C341.8,334.1,342.9,317.1,344.1,317.1C344.5,317.1,344.9,328.9,345.4,333.9C345.9,340.5,346.5,350.7,347.0,350.7C348.5,350.7,350.0,339.5,351.5,339.5C352.3,339.5,353.1,347.3,353.9,347.3C354.5,347.3,355.1,339.5,355.8,323.9C355.9,320.8,356.0,308.9,356.1,306.6C356.4,302.5,356.6,300.5,356.8,300.5C358.3,300.5,359.9,315.7,361.4,315.7C361.9,315.7,362.4,306.1,362.8,300.4C363.2,295.7,363.6,285.1,364.0,285.1C364.8,285.1,365.6,301.6,366.4,302.3C367.2,303.0,368.0,302.6,368.8,303.3C370.4,304.6,371.9,332.1,373.5,332.1C374.4,332.1,375.2,321.4,376.1,321.4C376.4,321.4,376.7,332.7,377.1,337.5C377.5,343.7,377.9,353.7,378.3,353.7C378.9,353.7,379.5,342.9,380.1,335.4C380.5,330.0,380.9,317.1,381.3,317.1C382.0,317.1,382.8,331.2,383.5,331.2C384.4,331.2,385.2,321.4,386.1,321.4C386.8,321.4,387.5,332.1,388.2,332.1C389.1,332.1,389.9,308.4,390.8,308.4C391.5,308.4,392.3,322.6,393.0,322.6C393.6,322.6,394.2,313.5,394.8,295.2C394.9,292.4,395.0,277.4,395.1,274.9C395.2,270.2,395.4,267.8,395.6,267.8C395.8,267.8,396.0,269.8,396.2,273.7C396.3,275.9,396.4,287.3,396.5,290.4C397.0,305.6,397.5,313.1,398.0,313.1C398.5,313.1,398.9,304.6,399.4,299.9C399.8,295.8,400.2,286.8,400.6,286.8C400.8,286.8,401.0,288.8,401.2,292.8C401.3,295.1,401.4,306.7,401.5,309.8C402.1,325.2,402.6,332.9,403.2,332.9C404.0,332.9,404.8,302.9,405.6,287.0C406.4,271.1,407.2,240.6,408.0,237.5C408.8,234.3,409.7,232.7,410.5,232.7C411.2,232.7,412.0,236.1,412.7,243.0C413.4,249.2,414.0,288.0,414.7,303.0C415.6,322.5,416.4,336.4,417.3,336.4C418.0,336.4,418.7,324.0,419.5,299.2C419.6,295.7,419.7,275.0,419.8,271.8C420.0,265.3,420.2,262.1,420.4,262.1C420.7,262.1,421.0,266.0,421.3,273.7C421.5,277.6,421.7,302.5,421.8,306.8C422.9,336.5,424.0,351.4,425.1,351.4C426.1,351.4,427.1,344.1,428.1,329.4C428.3,326.2,428.5,315.4,428.8,313.2C429.1,309.4,429.5,307.5,429.9,307.5C430.9,307.5,431.8,329.5,432.8,331.7C433.6,333.4,434.3,332.6,435.1,334.3C435.8,335.9,436.5,344.2,437.2,344.2C437.9,344.2,438.7,342.5,439.4,342.5C440.3,342.5,441.1,345.6,442.0,345.6C442.9,345.6,443.7,337.1,444.6,332.4C445.4,328.3,446.2,319.3,447.0,319.3C447.6,319.3,448.2,333.0,448.8,338.6C449.7,346.9,450.6,358.0,451.5,358.0C452.8,358.0,454.0,337.9,455.3,330.8C456.9,322.0,458.4,313.1,460.0,313.1C460.3,313.1,460.7,314.9,461.0,318.4C461.2,320.5,461.4,330.1,461.6,333.4C462.4,346.9,463.3,353.7,464.1,353.7C464.7,353.7,465.3,343.6,465.9,323.4C465.9,320.6,466.0,303.7,466.1,301.1C466.3,295.8,466.4,293.2,466.6,293.2C468.1,293.2,469.7,317.4,471.2,317.4C472.1,317.4,473.1,316.2,474.0,316.2C474.8,316.2,475.6,327.4,476.4,329.1C477.9,332.2,479.4,333.8,480.9,333.8C482.0,333.8,483.1,314.5,484.2,314.5C484.9,314.5,485.5,325.8,486.2,330.6C487.0,336.8,487.9,346.8,488.7,346.8C489.8,346.8,490.8,340.0,491.9,326.5C492.1,323.2,492.4,313.6,492.6,311.5C493.0,308.0,493.5,306.2,493.9,306.2C494.6,306.2,495.2,329.5,495.9,329.5C496.5,329.5,497.1,315.0,497.7,286.1C497.8,282.0,497.9,257.7,498.0,254.0C498.2,246.5,498.3,242.7,498.5,242.7C498.8,242.7,499.1,246.5,499.4,254.0C499.5,257.8,499.7,282.2,499.8,286.4C500.8,315.4,501.9,328.6,502.9,330.0C503.5,330.8,504.0,331.2,504.6,331.2C505.9,331.2,507.3,326.2,508.6,326.2C509.2,326.2,509.9,339.6,510.5,345.1C511.4,353.1,512.3,364.1,513.2,364.1C513.9,364.1,514.6,355.2,515.2,337.6C515.3,334.6,515.5,320.3,515.6,317.9C515.8,313.3,516.0,311.0,516.2,311.0C516.8,311.0,517.4,324.5,518.0,330.0C518.8,338.0,519.7,349.0,520.5,349.0C521.6,349.0,522.7,334.1,523.9,304.4C524.0,300.1,524.2,275.2,524.3,271.3C524.7,263.6,525.0,259.7,525.3,259.7C525.6,259.7,526.0,262.7,526.3,268.7C526.4,271.6,526.6,290.9,526.8,294.1C527.9,317.1,529.1,328.6,530.2,328.6C531.1,328.6,532.0,305.5,532.9,305.5C533.3,305.5,533.6,307.4,534.0,311.2C534.2,313.3,534.4,324.0,534.6,327.2C535.5,341.8,536.5,349.0,537.4,349.0C538.0,349.0,538.5,341.2,539.1,325.7C539.2,322.6,539.3,310.7,539.4,308.5C539.6,304.4,539.8,302.4,540.0,302.4C540.3,302.4,540.6,313.3,540.9,318.1C541.3,324.0,541.7,333.7,542.1,333.8C543.0,334.1,543.8,334.0,544.7,334.3C545.6,334.7,546.6,339.0,547.5,339.0C548.0,339.0,548.5,328.4,548.9,321.2C549.3,315.9,549.6,303.4,550.0,303.4C550.8,303.4,551.6,312.3,552.4,316.4C553.3,321.0,554.2,329.5,555.1,329.5C556.0,329.5,556.8,326.2,557.7,326.2C559.1,326.2,560.6,350.7,562.0,350.7C562.5,350.7,563.0,340.3,563.5,333.4C563.9,328.3,564.2,316.2,564.6,316.2C565.5,316.2,566.3,332.9,567.2,332.9C568.0,332.9,568.9,329.2,569.7,329.2C570.9,329.2,572.1,350.1,573.3,350.1C574.1,350.1,574.8,350.1,575.6,350.0C576.4,349.9,577.2,341.4,578.0,324.2C578.1,321.2,578.3,307.5,578.4,305.1C578.7,300.6,578.9,298.4,579.2,298.4C579.5,298.4,579.8,300.7,580.1,305.3C580.3,307.7,580.4,321.8,580.6,324.8C581.6,342.3,582.5,351.1,583.5,351.1C584.2,351.1,584.9,343.7,585.6,328.9C585.7,325.7,585.9,314.7,586.0,312.5C586.3,308.6,586.5,306.7,586.8,306.7C588.2,306.7,589.7,318.2,591.1,318.2C592.0,318.2,593.0,314.8,593.9,314.8C594.6,314.8,595.2,326.5,595.9,331.4C596.8,337.9,597.6,345.3,598.5,348.1C600.1,353.3,601.8,355.9,603.4,355.9C604.7,355.9,605.9,342.5,607.2,315.8C607.4,311.9,607.5,289.5,607.7,286.0C608.1,279.1,608.4,275.6,608.8,275.6C609.2,275.6,609.6,278.8,610.0,285.1C610.2,288.3,610.3,308.8,610.5,312.3C611.9,336.8,613.2,349.0,614.6,349.0C615.4,349.0,616.2,348.8,617.0,348.3C617.8,347.8,618.7,338.5,619.5,318.9C619.6,316.0,619.8,299.6,619.9,297.1C620.1,292.0,620.4,289.4,620.6,289.4C620.9,289.4,621.2,292.3,621.5,298.0C621.7,300.8,621.9,319.3,622.0,322.4C623.1,344.4,624.2,355.4,625.3,355.4C626.3,355.4,627.3,337.3,628.3,337.3C629.0,337.3,629.8,348.5,630.5,348.5C631.4,348.5,632.2,339.5,633.1,334.5C633.8,330.1,634.6,320.5,635.3,320.5C636.2,320.5,637.0,334.7,637.9,334.7C638.8,334.7,639.8,324.7,640.7,318.4C641.4,313.5,642.2,302.2,642.9,302.2C643.2,302.2,643.6,304.3,643.9,308.6C644.1,310.9,644.3,323.7,644.5,326.8C645.4,343.2,646.4,351.4,647.4,351.4C647.9,351.4,648.5,340.8,649.0,333.5C649.4,328.3,649.8,315.7,650.2,315.7C650.6,315.7,650.9,326.2,651.3,330.8C651.7,336.4,652.2,345.9,652.6,345.9C653.9,345.9,655.1,335.3,656.4,323.9C657.2,316.5,658.0,314.8,658.9,296.5C659.0,293.7,659.1,278.8,659.3,276.3C659.5,271.6,659.8,269.2,660.0,269.2C660.3,269.2,660.6,271.8,660.9,276.9C661.1,279.5,661.2,296.1,661.4,298.9C662.5,318.7,663.5,328.6,664.6,328.6C665.2,328.6,665.7,320.5,666.3,304.2C666.4,301.2,666.5,288.6,666.6,286.2C666.8,282.0,667.0,279.9,667.2,279.9C667.6,279.9,668.0,281.8,668.3,285.6C668.6,287.7,668.8,298.4,669.0,301.6C670.0,316.1,671.0,323.4,672.0,323.4C672.7,323.4,673.3,315.2,674.0,298.8C674.1,295.7,674.2,282.9,674.3,280.6C674.6,276.3,674.8,274.2,675.0,274.2C675.3,274.2,675.6,276.3,675.9,280.6C676.0,282.9,676.2,295.6,676.4,298.6C677.2,314.9,678.1,322.3,678.9,323.1C680.1,324.2,681.2,323.7,682.4,324.8C683.9,326.3,685.5,358.3,687.0,358.3C687.5,358.3,687.9,351.3,688.4,337.2C688.5,334.0,688.6,323.8,688.7,321.7C688.9,318.0,689.1,316.2,689.3,316.2C690.4,316.2,691.6,333.3,692.7,339.5C694.0,346.4,695.2,354.5,696.5,354.5C697.0,354.5,697.6,347.2,698.1,332.8C698.2,329.5,698.4,318.8,698.5,316.7C698.7,312.9,698.9,311.0,699.1,311.0C700.1,311.0,701.2,325.2,702.2,329.1C703.7,334.6,705.1,337.3,706.6,337.3C707.3,337.3,708.1,314.8,708.8,314.8C709.0,314.8,709.2,317.2,709.4,321.9C709.5,324.3,709.6,339.2,709.7,342.0C710.3,360.1,711.0,369.2,711.6,369.2C713.1,369.2,714.7,327.1,716.2,327.0C717.0,326.9,717.8,326.9,718.6,326.9C719.5,326.9,720.4,349.4,721.3,349.4C721.7,349.4,722.0,344.6,722.4,335.0C722.6,330.2,722.8,312.9,723.0,303.0C723.1,293.2,723.3,275.9,723.5,275.9C723.7,275.9,723.9,294.2,724.0,303.0C724.3,313.4,724.5,329.3,724.7,333.0C725.1,339.9,725.5,343.3,725.9,343.3C726.9,343.3,728.0,313.4,729.0,313.2C729.7,313.1,730.3,313.0,731.0,313.0C731.8,313.0,732.6,336.4,733.4,336.4C734.4,336.4,735.4,325.4,736.4,317.4C737.1,311.9,737.8,298.4,738.5,298.4C740.0,298.4,741.4,310.1,742.9,313.0C743.5,314.3,744.2,315.7,744.8,315.7C745.5,315.7,746.1,314.8,746.8,313.0C747.0,312.5,747.2,300.4,747.4,295.0C747.6,288.7,747.9,278.5,748.1,278.5C748.3,278.5,748.6,289.5,748.8,295.0C749.0,299.7,749.2,307.7,749.4,309.0C749.8,311.8,750.3,313.0,750.7,313.2C751.5,313.5,752.2,313.3,753.0,313.6C753.9,313.9,754.7,335.2,755.6,335.2C756.3,335.2,757.1,317.1,757.8,317.1C758.7,317.1,759.5,331.2,760.4,331.2C762.1,331.2,763.7,315.3,765.4,315.3C765.8,315.3,766.1,325.1,766.5,329.5C766.9,334.7,767.3,343.8,767.7,343.8C768.3,343.8,768.9,333.6,769.5,313.1C769.6,310.2,769.7,293.1,769.8,290.5C770.0,285.2,770.1,282.5,770.3,282.5C771.7,282.5,773.2,304.4,774.6,304.4C775.4,304.4,776.2,296.3,777.0,296.3C777.4,296.3,777.9,309.2,778.3,314.6C778.9,322.1,779.5,332.9,780.1,332.9C781.1,332.9,782.2,318.8,783.2,318.8C784.4,318.8,785.5,319.1,786.7,319.1C787.3,319.1,787.9,316.4,788.5,311.0C788.7,309.2,788.9,293.3,789.1,285.0C789.3,276.7,789.5,261.2,789.7,261.2C789.9,261.2,790.1,275.9,790.3,285.0C790.5,294.1,790.7,307.3,790.9,316.0C791.4,337.8,791.9,350.7,792.4,350.7C792.9,350.7,793.4,340.8,793.8,334.8C794.2,329.9,794.6,318.8,795.0,318.8C795.7,318.8,796.3,329.5,797.0,329.5C797.9,329.5,798.7,310.1,799.6,310.1C799.8,310.1,800.0,312.0,800.2,315.8C800.3,318.0,800.4,328.7,800.5,331.9C801.1,346.4,801.6,353.7,802.1,353.7C803.1,353.7,804.2,342.8,805.2,321.1C805.4,318.0,805.6,299.8,805.7,297.0C806.0,291.3,806.3,288.5,806.6,288.5C807.5,288.5,808.5,298.1,809.4,298.1C810.2,298.1,811.1,297.9,811.9,297.4C812.3,297.2,812.7,288.8,813.1,284.0C813.5,279.8,813.8,270.7,814.2,270.7C814.4,270.7,814.5,274.3,814.7,281.4C814.8,285.0,814.8,308.0,814.9,311.9C815.5,339.4,816.0,353.2,816.6,353.2C817.9,353.2,819.1,345.1,820.4,335.2C821.1,329.4,821.9,328.1,822.6,313.9C822.8,310.6,823.0,300.2,823.1,298.1C823.4,294.4,823.7,292.5,824.0,292.5C824.3,292.5,824.7,294.7,825.0,299.2C825.2,301.6,825.4,315.4,825.6,318.4C826.6,335.6,827.7,344.2,828.7,344.2C830.0,344.2,831.2,325.6,832.5,320.5C833.1,318.2,833.6,318.8,834.2,315.3C835.0,310.6,835.7,290.8,836.5,290.8C837.1,290.8,837.7,303.9,838.3,309.3C839.1,317.0,840.0,327.8,840.8,327.8C841.7,327.8,842.5,311.0,843.4,311.0C844.4,311.0,845.3,317.4,846.3,319.6C847.7,322.8,849.2,324.8,850.6,324.8C851.9,324.8,853.1,311.9,854.4,311.9C855.7,311.9,857.1,315.9,858.4,323.9C859.2,328.5,859.9,343.3,860.7,343.3C861.1,343.3,861.6,333.5,862.0,327.6C862.4,322.8,862.7,311.9,863.1,311.9C863.4,311.9,863.8,322.2,864.1,326.8C864.5,332.2,864.9,341.6,865.3,341.6C865.8,341.6,866.4,330.9,866.9,323.6C867.3,318.2,867.7,305.5,868.1,305.5C868.4,305.5,868.7,317.2,869.1,322.1C869.5,328.6,869.9,338.8,870.3,338.8C871.0,338.8,871.7,338.3,872.4,337.2C873.2,336.0,874.0,325.8,874.8,303.1C874.9,299.9,875.0,280.8,875.1,277.9C875.3,272.0,875.6,269.0,875.8,269.0C876.1,269.0,876.4,271.7,876.7,277.1C876.9,279.8,877.0,297.1,877.2,300.1C878.3,320.8,879.3,331.2,880.4,331.2C881.2,331.2,882.0,324.5,882.8,324.5C883.6,324.5,884.4,337.3,885.2,337.3C886.4,337.3,887.6,330.3,888.8,316.4C889.1,313.1,889.4,303.0,889.7,300.8C890.1,297.2,890.6,295.4,891.1,295.4C891.8,295.4,892.5,295.5,893.2,295.7C893.8,295.9,894.3,324.0,894.9,324.0C895.8,324.0,896.7,300.1,897.6,300.1C897.9,300.1,898.3,302.2,898.6,306.5C898.8,308.8,899.0,321.5,899.2,324.5C900.1,340.8,901.1,349.0,902.1,349.0C902.7,349.0,903.3,336.0,903.9,310.1C904.0,306.4,904.1,284.7,904.2,281.3C904.4,274.6,904.5,271.2,904.7,271.2C904.9,271.2,905.1,273.3,905.3,277.6C905.4,280.0,905.5,292.8,905.6,295.9C906.1,312.3,906.7,320.5,907.2,320.5C908.1,320.5,909.1,313.8,910.0,300.5C910.3,297.2,910.5,287.8,910.7,285.7C911.1,282.2,911.5,280.5,911.9,280.5C912.3,280.5,912.6,292.8,913.0,298.0C913.5,305.0,914.0,315.5,914.5,315.5C915.2,315.5,915.9,292.0,916.6,292.0C917.0,292.0,917.4,304.4,917.8,309.6C918.3,316.7,918.9,327.2,919.4,327.2C920.2,327.2,920.9,316.2,921.7,316.2C922.5,316.2,923.4,328.8,924.2,328.8C925.1,328.8,926.1,303.4,927.0,303.4C927.7,303.4,928.3,303.6,929.0,303.9C929.9,304.3,930.8,345.9,931.7,345.9C932.6,345.9,933.5,330.6,934.4,300.0C934.7,290.9,934.9,263.5,935.2,250.0C935.6,229.8,936.0,210.7,936.4,210.7C936.8,210.7,937.2,223.6,937.6,230.0C938.1,237.4,938.5,245.6,939.0,252.0C939.8,263.5,940.7,278.1,941.5,278.1C942.3,278.1,943.1,273.6,943.9,268.0C944.4,264.5,944.9,263.7,945.4,255.0C945.6,251.0,945.9,231.1,946.1,231.1C946.3,231.1,946.6,253.8,946.8,265.0C946.9,271.4,947.1,282.8,947.2,284.0C947.7,288.7,948.2,289.6,948.7,291.0C949.5,293.3,950.4,292.2,951.2,294.5C952.0,296.6,952.7,307.9,953.5,307.9C953.8,307.9,954.1,295.7,954.4,290.0C954.6,286.2,954.8,281.6,955.0,279.0C955.5,273.0,955.9,271.4,956.4,270.0C957.0,268.1,957.7,267.2,958.3,267.2C959.1,267.2,959.8,277.3,960.6,284.0C961.0,287.8,961.5,296.5,961.9,296.5C962.4,296.5,962.8,186.8,963.3,77.0" fill="none" stroke="#eebd4c" stroke-width="1.95" stroke-linejoin="round" stroke-linecap="butt"/>
  </g>
</svg>
</body>
</html>
